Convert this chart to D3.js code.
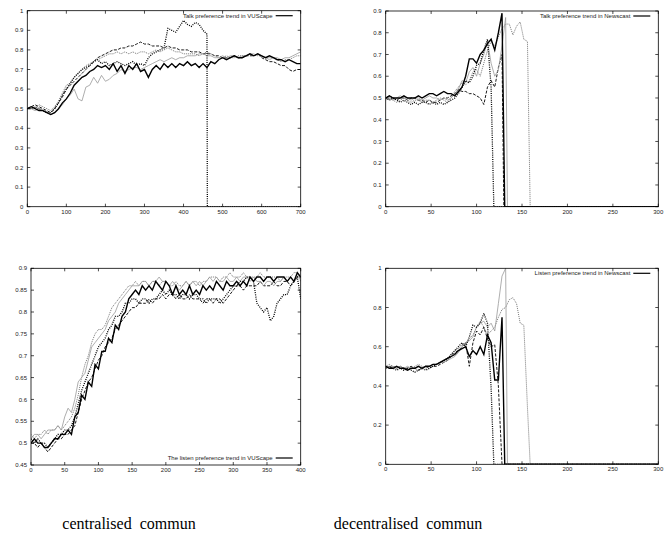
<!DOCTYPE html>
<html>
<head>
<meta charset="utf-8">
<script src="https://cdn.jsdelivr.net/npm/d3@7"></script>
<style>
  body { margin: 0; background: #fff; }
  svg { display: block; }
</style>
</head>
<body>
<svg id="chart" width="671" height="536"></svg>
<script>
// ---- Talk preference trend in VUScape (x every 10 steps) ----
const talkVuscapeStep = 10
const talkVuscapeXTicks = [0, 100, 200, 300, 400, 500, 600, 700]
const talkVuscapeYTicks = [0, 0.1, 0.2, 0.3, 0.4, 0.5, 0.6, 0.7, 0.8, 0.9, 1]
const talkVuscapeA = [0.50, 0.51, 0.50, 0.49, 0.49, 0.48, 0.47, 0.48, 0.50, 0.53, 0.55,
  0.58, 0.62, 0.64, 0.66, 0.67, 0.69, 0.70, 0.72, 0.71, 0.72,
  0.70, 0.73, 0.69, 0.72, 0.68, 0.72, 0.70, 0.73, 0.69, 0.70,
  0.66, 0.70, 0.72, 0.70, 0.73, 0.71, 0.73, 0.71, 0.73, 0.72,
  0.74, 0.72, 0.73, 0.71, 0.73, 0.71, 0.74, 0.73, 0.75, 0.76,
  0.75, 0.76, 0.77, 0.76, 0.76, 0.77, 0.78, 0.77, 0.78, 0.77,
  0.76, 0.77, 0.76, 0.75, 0.75, 0.74, 0.75, 0.74, 0.73, 0.73]
const talkVuscapeB = [0.50, 0.50, 0.51, 0.50, 0.49, 0.48, 0.48, 0.50, 0.53, 0.57, 0.60,
  0.63, 0.66, 0.68, 0.70, 0.71, 0.72, 0.74, 0.75, 0.73, 0.74,
  0.72, 0.73, 0.74, 0.73, 0.72, 0.73, 0.74, 0.72, 0.73, 0.72,
  0.76, 0.78, 0.79, 0.80, 0.81, 0.91, 0.90, 0.89, 0.92, 0.95,
  0.93, 0.92, 0.94, 0.93, 0.90, 0.88]
const talkVuscapeC = [0.50, 0.51, 0.52, 0.51, 0.50, 0.49, 0.48, 0.50, 0.53, 0.56, 0.60,
  0.62, 0.64, 0.66, 0.68, 0.70, 0.72, 0.74, 0.76, 0.77, 0.78,
  0.79, 0.80, 0.80, 0.81, 0.81, 0.82, 0.82, 0.83, 0.84, 0.83,
  0.83, 0.82, 0.82, 0.82, 0.81, 0.82, 0.81, 0.81, 0.80, 0.80,
  0.80, 0.79, 0.79, 0.79, 0.78, 0.78, 0.78, 0.77, 0.77, 0.76,
  0.76, 0.76, 0.77, 0.76, 0.76, 0.77, 0.77, 0.77, 0.78, 0.76,
  0.75, 0.74, 0.74, 0.73, 0.72, 0.72, 0.70, 0.69, 0.70, 0.70]
const talkVuscapeD = [0.50, 0.51, 0.50, 0.52, 0.51, 0.50, 0.49, 0.51, 0.54, 0.58, 0.62,
  0.63, 0.66, 0.68, 0.70, 0.72, 0.73, 0.74, 0.75, 0.76, 0.77,
  0.78, 0.78, 0.79, 0.78, 0.79, 0.78, 0.79, 0.78, 0.79, 0.79,
  0.78, 0.79, 0.80, 0.79, 0.80, 0.81, 0.80, 0.79, 0.79, 0.78,
  0.78, 0.78, 0.78, 0.77, 0.78, 0.79, 0.78, 0.77, 0.76, 0.76,
  0.77, 0.76, 0.76, 0.77, 0.77, 0.77, 0.78, 0.78, 0.77, 0.77,
  0.76, 0.76, 0.76, 0.75, 0.74, 0.75, 0.75, 0.76, 0.77, 0.77]
const talkVuscapeE = [0.50, 0.50, 0.49, 0.50, 0.49, 0.48, 0.47, 0.48, 0.50, 0.52, 0.55,
  0.57, 0.60, 0.55, 0.54, 0.61, 0.62, 0.66, 0.63, 0.67, 0.64,
  0.65, 0.67, 0.68, 0.70, 0.69, 0.70, 0.71, 0.71, 0.70, 0.71,
  0.72, 0.73, 0.74, 0.75, 0.74, 0.75, 0.76, 0.75, 0.76, 0.76,
  0.77, 0.77, 0.77, 0.78, 0.78, 0.77, 0.77, 0.76, 0.76, 0.77,
  0.76, 0.77, 0.77, 0.76, 0.77, 0.77, 0.78, 0.77, 0.78, 0.77,
  0.76, 0.75, 0.76, 0.76, 0.75, 0.76, 0.76, 0.77, 0.78, 0.79]
// x where a run collapses to 0 (null = never)
const talkVuscapeDrops = [null, 461, null, null, null]

// ---- Talk preference trend in Newscast (x every 4 steps) ----
const talkNewscastStep = 4
const talkNewscastXTicks = [0, 50, 100, 150, 200, 250, 300]
const talkNewscastYTicks = [0, 0.1, 0.2, 0.3, 0.4, 0.5, 0.6, 0.7, 0.8, 0.9]
const talkNewscastA = [0.50, 0.51, 0.50, 0.50, 0.50, 0.51, 0.50, 0.50, 0.50, 0.51,
  0.50, 0.51, 0.52, 0.52, 0.51, 0.52, 0.53, 0.52, 0.52, 0.51,
  0.53, 0.55, 0.60, 0.68, 0.68, 0.66, 0.70, 0.72, 0.75, 0.77,
  0.72, 0.80, 0.89]
const talkNewscastB = [0.50, 0.49, 0.50, 0.49, 0.48, 0.49, 0.48, 0.47, 0.48, 0.47,
  0.48, 0.48, 0.47, 0.48, 0.47, 0.48, 0.47, 0.48, 0.49, 0.50,
  0.52, 0.55, 0.58, 0.57, 0.60, 0.65, 0.66, 0.72, 0.77, 0.55]
const talkNewscastC = [0.50, 0.50, 0.49, 0.50, 0.51, 0.50, 0.50, 0.49, 0.50, 0.50,
  0.49, 0.50, 0.51, 0.50, 0.50, 0.49, 0.50, 0.49, 0.50, 0.52,
  0.54, 0.58, 0.57, 0.62, 0.64, 0.60, 0.66, 0.70, 0.76, 0.66,
  0.60, 0.63, 0.74, 0.87]
const talkNewscastD = [0.49, 0.50, 0.49, 0.48, 0.49, 0.50, 0.49, 0.48, 0.49, 0.49,
  0.48, 0.49, 0.49, 0.48, 0.49, 0.50, 0.49, 0.48, 0.50, 0.53,
  0.55, 0.57, 0.56, 0.58, 0.62, 0.63, 0.60, 0.66, 0.72, 0.76,
  0.74, 0.78, 0.82, 0.84, 0.84, 0.79, 0.83, 0.85, 0.77, 0.76]
const talkNewscastE = [0.50, 0.51, 0.50, 0.49, 0.50, 0.50, 0.49, 0.50, 0.50, 0.49,
  0.49, 0.48, 0.49, 0.48, 0.48, 0.49, 0.50, 0.50, 0.51, 0.52,
  0.54, 0.53, 0.53, 0.52, 0.52, 0.51, 0.50, 0.47, 0.55, 0.58,
  0.55, 0.64, 0.70]
const talkNewscastDrops = [131, 119, 134, 159, 130]

// ---- The listen preference trend in VUScape (x every 5 steps) ----
const listenVuscapeStep = 5
const listenVuscapeXTicks = [0, 50, 100, 150, 200, 250, 300, 350, 400]
const listenVuscapeYTicks = [0.45, 0.5, 0.55, 0.6, 0.65, 0.7, 0.75, 0.8, 0.85, 0.9]
const listenVuscapeA = [0.50, 0.51, 0.50, 0.50, 0.49, 0.49, 0.50, 0.51, 0.51, 0.52, 0.52,
  0.53, 0.52, 0.56, 0.57, 0.61, 0.60, 0.64, 0.63, 0.68, 0.67,
  0.71, 0.71, 0.74, 0.73, 0.77, 0.76, 0.79, 0.80, 0.83, 0.84,
  0.85, 0.84, 0.86, 0.85, 0.86, 0.85, 0.87, 0.86, 0.85, 0.87,
  0.86, 0.84, 0.86, 0.84, 0.85, 0.84, 0.86, 0.84, 0.85, 0.84,
  0.86, 0.85, 0.86, 0.85, 0.87, 0.86, 0.85, 0.87, 0.86, 0.86,
  0.87, 0.86, 0.87, 0.86, 0.88, 0.87, 0.88, 0.88, 0.87, 0.88,
  0.88, 0.87, 0.88, 0.88, 0.88, 0.87, 0.88, 0.87, 0.89, 0.88]
const listenVuscapeB = [0.51, 0.50, 0.51, 0.50, 0.50, 0.49, 0.50, 0.51, 0.52, 0.52, 0.53,
  0.53, 0.54, 0.56, 0.59, 0.62, 0.64, 0.66, 0.68, 0.70, 0.72,
  0.73, 0.74, 0.76, 0.77, 0.79, 0.79, 0.80, 0.82, 0.82, 0.83,
  0.83, 0.82, 0.83, 0.83, 0.82, 0.83, 0.83, 0.84, 0.85, 0.84,
  0.85, 0.84, 0.84, 0.83, 0.84, 0.84, 0.83, 0.84, 0.84, 0.83,
  0.83, 0.82, 0.83, 0.83, 0.83, 0.82, 0.83, 0.84, 0.85, 0.86,
  0.86, 0.87, 0.87, 0.88, 0.88, 0.87, 0.82, 0.81, 0.80, 0.81,
  0.78, 0.79, 0.82, 0.83, 0.84, 0.84, 0.86, 0.87, 0.88, 0.83]
const listenVuscapeC = [0.51, 0.52, 0.52, 0.51, 0.52, 0.53, 0.53, 0.53, 0.54, 0.53, 0.56,
  0.58, 0.57, 0.60, 0.64, 0.65, 0.66, 0.69, 0.72, 0.73, 0.74,
  0.75, 0.76, 0.78, 0.79, 0.80, 0.82, 0.83, 0.84, 0.85, 0.86,
  0.86, 0.86, 0.87, 0.87, 0.86, 0.87, 0.87, 0.88, 0.87, 0.87,
  0.86, 0.87, 0.86, 0.85, 0.86, 0.87, 0.86, 0.87, 0.86, 0.87,
  0.86, 0.87, 0.88, 0.87, 0.88, 0.87, 0.87, 0.88, 0.87, 0.87,
  0.88, 0.87, 0.88, 0.88, 0.87, 0.88, 0.87, 0.87, 0.86, 0.87,
  0.87, 0.86, 0.87, 0.87, 0.88, 0.87, 0.88, 0.87, 0.88, 0.88]
const listenVuscapeD = [0.52, 0.51, 0.52, 0.52, 0.53, 0.52, 0.53, 0.53, 0.54, 0.53, 0.54,
  0.55, 0.56, 0.58, 0.61, 0.65, 0.68, 0.70, 0.73, 0.75, 0.76,
  0.76, 0.77, 0.79, 0.81, 0.82, 0.83, 0.84, 0.85, 0.86, 0.86,
  0.87, 0.86, 0.87, 0.87, 0.86, 0.87, 0.87, 0.86, 0.87, 0.87,
  0.86, 0.86, 0.87, 0.86, 0.86, 0.87, 0.86, 0.87, 0.87, 0.86,
  0.87, 0.87, 0.88, 0.88, 0.88, 0.87, 0.88, 0.88, 0.89, 0.88,
  0.88, 0.88, 0.89, 0.88, 0.88, 0.88, 0.88, 0.89, 0.88, 0.88,
  0.88, 0.88, 0.88, 0.87, 0.88, 0.88, 0.88, 0.89, 0.89, 0.87]
const listenVuscapeE = [0.50, 0.50, 0.49, 0.50, 0.49, 0.48, 0.49, 0.50, 0.51, 0.51, 0.52,
  0.52, 0.53, 0.54, 0.57, 0.60, 0.62, 0.64, 0.65, 0.67, 0.69,
  0.70, 0.72, 0.73, 0.74, 0.76, 0.77, 0.78, 0.79, 0.80, 0.81,
  0.81, 0.82, 0.82, 0.82, 0.83, 0.82, 0.83, 0.83, 0.84, 0.83,
  0.84, 0.84, 0.83, 0.84, 0.83, 0.83, 0.84, 0.83, 0.83, 0.83,
  0.82, 0.83, 0.83, 0.82, 0.83, 0.83, 0.82, 0.83, 0.84, 0.85,
  0.86, 0.86, 0.85, 0.86, 0.86, 0.86, 0.86, 0.87, 0.86, 0.86,
  0.86, 0.87, 0.86, 0.86, 0.87, 0.87, 0.86, 0.87, 0.88, 0.88]
const listenVuscapeDrops = [null, null, null, null, null]

// ---- Listen preference trend in Newscast (x every 4 steps) ----
const listenNewscastStep = 4
const listenNewscastXTicks = [0, 50, 100, 150, 200, 250, 300]
const listenNewscastYTicks = [0, 0.2, 0.4, 0.6, 0.8, 1]
const listenNewscastA = [0.50, 0.49, 0.49, 0.50, 0.49, 0.49, 0.48, 0.49, 0.49, 0.50,
  0.49, 0.50, 0.50, 0.51, 0.51, 0.52, 0.53, 0.54, 0.55, 0.56,
  0.58, 0.59, 0.60, 0.55, 0.58, 0.56, 0.60, 0.56, 0.66, 0.62,
  0.43, 0.43, 0.75]
const listenNewscastB = [0.49, 0.50, 0.49, 0.48, 0.49, 0.48, 0.49, 0.48, 0.47, 0.48,
  0.49, 0.48, 0.49, 0.50, 0.51, 0.52, 0.53, 0.54, 0.56, 0.58,
  0.60, 0.62, 0.60, 0.65, 0.71, 0.70, 0.72, 0.77, 0.72, 0.39]
const listenNewscastC = [0.49, 0.50, 0.50, 0.49, 0.50, 0.49, 0.50, 0.49, 0.49, 0.50,
  0.49, 0.50, 0.50, 0.51, 0.51, 0.52, 0.52, 0.53, 0.54, 0.55,
  0.57, 0.60, 0.62, 0.63, 0.65, 0.70, 0.72, 0.73, 0.70, 0.72,
  0.68, 0.82, 0.96, 1.00]
const listenNewscastD = [0.50, 0.51, 0.50, 0.49, 0.50, 0.49, 0.48, 0.49, 0.50, 0.51,
  0.50, 0.49, 0.50, 0.50, 0.51, 0.52, 0.53, 0.54, 0.56, 0.58,
  0.59, 0.61, 0.62, 0.64, 0.66, 0.70, 0.73, 0.70, 0.66, 0.68,
  0.70, 0.75, 0.79, 0.80, 0.84, 0.85, 0.82, 0.72, 0.71, 0.29]
const listenNewscastE = [0.50, 0.49, 0.50, 0.49, 0.50, 0.49, 0.49, 0.50, 0.49, 0.48,
  0.49, 0.50, 0.49, 0.50, 0.50, 0.51, 0.52, 0.53, 0.55, 0.57,
  0.58, 0.60, 0.62, 0.50, 0.62, 0.68, 0.66, 0.70, 0.64, 0.60,
  0.61, 0.40]
const listenNewscastDrops = [131, 119, 134, 159, 128]

const captions = ["centralised commun", "decentralised commun"]

// line styles, one per run (same order in every panel)
const styles = [
  { stroke: "#000", width: 1.4, dash: null },
  { stroke: "#000", width: 1.3, dash: "1,1.2" },
  { stroke: "#999", width: 0.8, dash: null },
  { stroke: "#777", width: 1, dash: "1,1" },
  { stroke: "#000", width: 0.9, dash: "3,1.5" }
]

const panels = [
  {
    runs: [talkVuscapeA, talkVuscapeB, talkVuscapeE, talkVuscapeD, talkVuscapeC],
    drops: talkVuscapeDrops,
    step: talkVuscapeStep, xDomain: [0, 700], yDomain: [0, 1],
    xTicks: talkVuscapeXTicks, yTicks: talkVuscapeYTicks,
    legend: "Talk preference trend in VUScape", legendTop: true,
    left: 27.3, right: 300.7, top: 10.7, bottom: 206.7
  },
  {
    runs: [talkNewscastA, talkNewscastB, talkNewscastC, talkNewscastD, talkNewscastE],
    drops: talkNewscastDrops,
    step: talkNewscastStep, xDomain: [0, 300], yDomain: [0, 0.9],
    xTicks: talkNewscastXTicks, yTicks: talkNewscastYTicks,
    legend: "Talk preference trend in Newscast", legendTop: true,
    left: 385.7, right: 658.3, top: 11, bottom: 206.7
  },
  {
    runs: [listenVuscapeA, listenVuscapeB, listenVuscapeC, listenVuscapeD, listenVuscapeE],
    drops: listenVuscapeDrops,
    step: listenVuscapeStep, xDomain: [0, 400], yDomain: [0.45, 0.9],
    xTicks: listenVuscapeXTicks, yTicks: listenVuscapeYTicks,
    legend: "The listen preference trend in VUScape", legendTop: false,
    left: 31, right: 300.7, top: 268.3, bottom: 465
  },
  {
    runs: [listenNewscastA, listenNewscastB, listenNewscastC, listenNewscastD, listenNewscastE],
    drops: listenNewscastDrops,
    step: listenNewscastStep, xDomain: [0, 300], yDomain: [0, 1],
    xTicks: listenNewscastXTicks, yTicks: listenNewscastYTicks,
    legend: "Listen preference trend in Newscast", legendTop: true,
    left: 385.7, right: 658.3, top: 268.3, bottom: 464.3
  }
]

const svg = d3.select("#chart")
const tickFont = "'Liberation Sans', Arial, Helvetica, sans-serif"

panels.forEach((p, pi) => {
  const x = d3.scaleLinear().domain(p.xDomain).range([p.left, p.right])
  const y = d3.scaleLinear().domain(p.yDomain).range([p.bottom, p.top])
  const g = svg.append("g")

  const clipId = "clip" + pi
  g.append("clipPath").attr("id", clipId)
    .append("rect")
    .attr("x", p.left).attr("y", p.top - 1)
    .attr("width", p.right - p.left).attr("height", p.bottom - p.top + 1)

  const line = d3.line().x(d => x(d[0])).y(d => y(d[1]))

  // draw runs back to front so the solid black one is on top
  const order = [4, 3, 2, 1, 0]
  order.forEach(si => {
    const vals = p.runs[si]
    const pts = vals.map((v, i) => [i * p.step, v])
    const drop = p.drops[si]
    if (drop != null) {
      pts.push([drop, p.yDomain[0]])
      pts.push([p.xDomain[1], p.yDomain[0]])
    }
    const st = styles[si]
    g.append("path")
      .datum(pts)
      .attr("clip-path", `url(#${clipId})`)
      .attr("fill", "none")
      .attr("stroke", st.stroke)
      .attr("stroke-width", st.width)
      .attr("stroke-dasharray", st.dash)
      .attr("stroke-linejoin", "miter")
      .attr("d", line)
  })

  // frame
  g.append("rect")
    .attr("x", p.left).attr("y", p.top)
    .attr("width", p.right - p.left).attr("height", p.bottom - p.top)
    .attr("fill", "none").attr("stroke", "#000").attr("stroke-width", 0.8)

  // ticks, inward on all sides
  const tl = 3
  p.xTicks.forEach(t => {
    g.append("line").attr("x1", x(t)).attr("x2", x(t)).attr("y1", p.bottom).attr("y2", p.bottom - tl)
      .attr("stroke", "#000").attr("stroke-width", 0.7)
    g.append("line").attr("x1", x(t)).attr("x2", x(t)).attr("y1", p.top).attr("y2", p.top + tl)
      .attr("stroke", "#000").attr("stroke-width", 0.7)
    g.append("text").attr("x", x(t)).attr("y", p.bottom + 7)
      .attr("text-anchor", "middle").attr("font-family", tickFont).attr("font-size", 6)
      .attr("fill", "#222").text(t)
  })
  p.yTicks.forEach(t => {
    g.append("line").attr("x1", p.left).attr("x2", p.left + tl).attr("y1", y(t)).attr("y2", y(t))
      .attr("stroke", "#000").attr("stroke-width", 0.7)
    g.append("line").attr("x1", p.right).attr("x2", p.right - tl).attr("y1", y(t)).attr("y2", y(t))
      .attr("stroke", "#000").attr("stroke-width", 0.7)
    g.append("text").attr("x", p.left - 4).attr("y", y(t) + 2.1)
      .attr("text-anchor", "end").attr("font-family", tickFont).attr("font-size", 6)
      .attr("fill", "#222").text(t)
  })

  // legend
  const ly = p.legendTop ? p.top + 5 : p.bottom - 7
  g.append("text").attr("x", p.right - 28).attr("y", ly + 2.1)
    .attr("text-anchor", "end").attr("font-family", tickFont).attr("font-size", 6)
    .attr("fill", "#222").text(p.legend)
  g.append("line").attr("x1", p.right - 25).attr("x2", p.right - 8)
    .attr("y1", ly).attr("y2", ly).attr("stroke", "#000").attr("stroke-width", 1.2)
})

// captions under each column
const capX = [129, 408]
captions.forEach((c, i) => {
  svg.append("text")
    .attr("x", capX[i]).attr("y", 529)
    .attr("text-anchor", "middle")
    .attr("font-family", "'Liberation Serif', 'DejaVu Serif', 'Times New Roman', serif")
    .attr("font-size", 16)
    .attr("word-spacing", 4)
    .attr("fill", "#000")
    .text(c)
})
</script>
</body>
</html>
